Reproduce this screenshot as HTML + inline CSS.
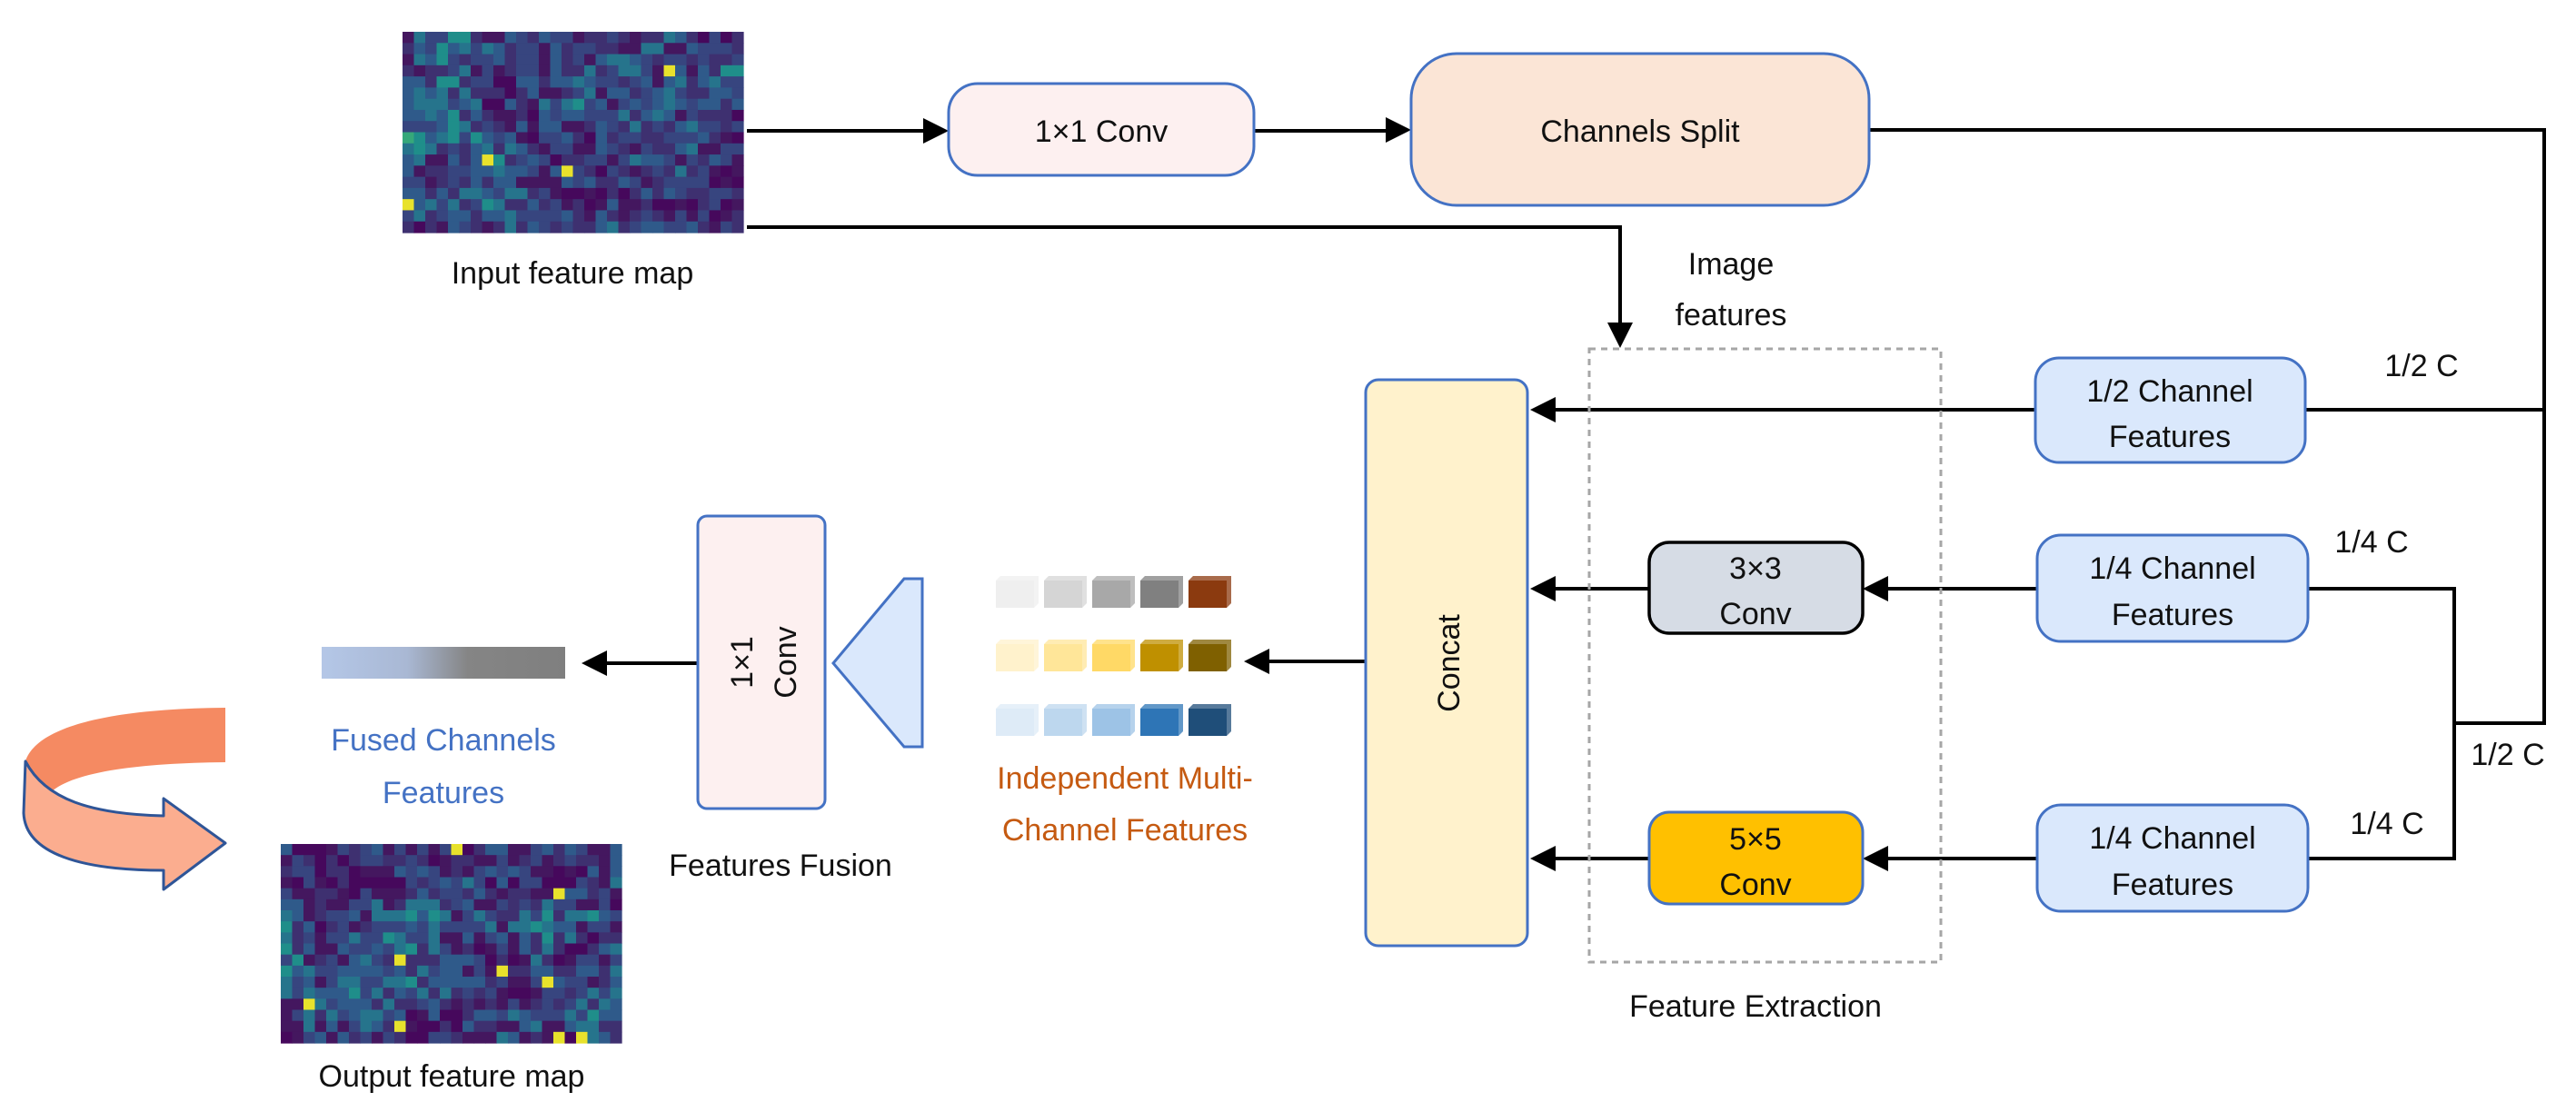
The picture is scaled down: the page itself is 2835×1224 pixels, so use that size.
<!DOCTYPE html>
<html><head><meta charset="utf-8"><style>
html,body{margin:0;padding:0;background:#fff;}
svg{display:block;}
text{font-family:"Liberation Sans",sans-serif;font-size:34px;fill:#111;}
</style></head><body>
<svg id="s" width="2835" height="1224" viewBox="0 0 2835 1224" xmlns="http://www.w3.org/2000/svg">
<defs>
<linearGradient id="gb" x1="0" x2="1" y1="0" y2="0"><stop offset="0" stop-color="#b4c7e7"/><stop offset="0.35" stop-color="#a9b8d4"/><stop offset="0.6" stop-color="#858585"/><stop offset="1" stop-color="#7f7f7f"/></linearGradient>
</defs>

<g id="fm1"><rect x="443" y="35" width="375" height="221" fill="#3d2d72"/></g>
<g id="fm2"><rect x="309" y="929" width="375" height="219" fill="#3f1f6e"/></g>

<text x="630" y="312" text-anchor="middle" font-size="37">Input feature map</text>
<text x="497" y="1196" text-anchor="middle" font-size="37">Output feature map</text>

<g stroke="#000" stroke-width="4" fill="none">
<line x1="822" y1="144" x2="1020" y2="144"/>
<polyline points="822,250 1783,250 1783,360"/>
<line x1="1380" y1="144" x2="1530" y2="144"/>
<polyline points="2057,143 2800,143 2800,796 2701,796"/>
<line x1="2800" y1="451" x2="2537" y2="451"/>
<line x1="2240" y1="451" x2="1706" y2="451"/>
<polyline points="2540,648 2701,648 2701,945 2540,945"/>
<line x1="2242" y1="648" x2="2074" y2="648"/>
<line x1="1815" y1="648" x2="1706" y2="648"/>
<line x1="2242" y1="945" x2="2074" y2="945"/>
<line x1="1815" y1="945" x2="1706" y2="945"/>
<line x1="1503" y1="728" x2="1392" y2="728"/>
<line x1="768" y1="730" x2="662" y2="730"/>
</g>
<g fill="#000">
<polygon points="1044,144 1016,130 1016,158"/>
<polygon points="1553,143 1525,129 1525,157"/>
<polygon points="1783,383 1769,355 1797,355"/>
<polygon points="1684,451 1712,437 1712,465"/>
<polygon points="1684,648 1712,634 1712,662"/>
<polygon points="2050,648 2078,634 2078,662"/>
<polygon points="1684,945 1712,931 1712,959"/>
<polygon points="2050,945 2078,931 2078,959"/>
<polygon points="1369,728 1397,714 1397,742"/>
<polygon points="640,730 668,716 668,744"/>
</g>

<rect x="1044" y="92" width="336" height="101" rx="32" fill="#fdf0f0" stroke="#4472c4" stroke-width="3"/>
<text x="1212" y="156" text-anchor="middle" font-size="36">1×1 Conv</text>
<rect x="1553" y="59" width="504" height="167" rx="50" fill="#fbe5d6" stroke="#4472c4" stroke-width="3"/>
<text x="1805" y="156" text-anchor="middle" font-size="36">Channels Split</text>

<text x="1905" y="302" text-anchor="middle" font-size="36">Image</text>
<text x="1905" y="358" text-anchor="middle" font-size="36">features</text>
<rect x="1749" y="384" width="387" height="675" fill="none" stroke="#a6a6a6" stroke-width="3" stroke-dasharray="7,6"/>
<text x="1932" y="1119" text-anchor="middle" font-size="36">Feature Extraction</text>

<rect x="1503" y="418" width="178" height="623" rx="14" fill="#fff2cc" stroke="#4472c4" stroke-width="3"/>
<text transform="translate(1606,730) rotate(-90)" text-anchor="middle" font-size="36">Concat</text>

<rect x="2240" y="394" width="297" height="115" rx="26" fill="#dae8fc" stroke="#4472c4" stroke-width="3"/>
<text x="2388" y="442" text-anchor="middle" font-size="36">1/2 Channel</text>
<text x="2388" y="492" text-anchor="middle" font-size="36">Features</text>
<rect x="2242" y="589" width="298" height="117" rx="26" fill="#dae8fc" stroke="#4472c4" stroke-width="3"/>
<text x="2391" y="637" text-anchor="middle" font-size="36">1/4 Channel</text>
<text x="2391" y="688" text-anchor="middle" font-size="36">Features</text>
<rect x="2242" y="886" width="298" height="117" rx="26" fill="#dae8fc" stroke="#4472c4" stroke-width="3"/>
<text x="2391" y="934" text-anchor="middle" font-size="36">1/4 Channel</text>
<text x="2391" y="985" text-anchor="middle" font-size="36">Features</text>

<rect x="1815" y="597" width="235" height="100" rx="22" fill="#d6dce5" stroke="#000" stroke-width="3.5"/>
<text x="1932" y="637" text-anchor="middle" font-size="36">3×3</text>
<text x="1932" y="687" text-anchor="middle" font-size="36">Conv</text>
<rect x="1815" y="894" width="235" height="101" rx="22" fill="#ffc000" stroke="#4472c4" stroke-width="3"/>
<text x="1932" y="935" text-anchor="middle" font-size="36">5×5</text>
<text x="1932" y="985" text-anchor="middle" font-size="36">Conv</text>

<text x="2665" y="414" text-anchor="middle" font-size="34">1/2 C</text>
<text x="2610" y="608" text-anchor="middle" font-size="34">1/4 C</text>
<text x="2760" y="842" text-anchor="middle" font-size="34">1/2 C</text>
<text x="2627" y="918" text-anchor="middle" font-size="34">1/4 C</text>

<g id="cubes"></g>
<text x="1238" y="868" text-anchor="middle" font-size="36" style="fill:#c55a11">Independent Multi-</text>
<text x="1238" y="925" text-anchor="middle" font-size="36" style="fill:#c55a11">Channel Features</text>

<polygon points="1015,637 995,637 917,730 995,822 1015,822" fill="#dae8fc" stroke="#4472c4" stroke-width="3"/>
<rect x="768" y="568" width="140" height="322" rx="10" fill="#fdf0f0" stroke="#4472c4" stroke-width="3"/>
<text transform="translate(838,729) rotate(-90)" text-anchor="middle" font-size="36"><tspan x="0" y="-10">1×1</tspan><tspan x="0" y="38">Conv</tspan></text>
<text x="859" y="964" text-anchor="middle" font-size="36">Features Fusion</text>

<rect x="354" y="712" width="268" height="35" fill="url(#gb)"/>
<text x="488" y="826" text-anchor="middle" font-size="37" style="fill:#4472c4">Fused Channels</text>
<text x="488" y="884" text-anchor="middle" font-size="37" style="fill:#4472c4">Features</text>

<!-- curved arrow -->
<path d="M28,838 C40,800 120,780 248,779 L248,839 C150,840 80,850 56,872 C40,862 30,850 28,838 Z" fill="#f58a62"/>
<path d="M28,838 L26,895 C28,940 90,958 180,958 L180,979 L248,928 L180,879 L180,898 C100,896 50,880 28,838 Z" fill="#fbad8f" stroke="#2f5597" stroke-width="3" stroke-linejoin="round"/>
</svg>
<script>
(function(){
var ns="http://www.w3.org/2000/svg";
var seed=12345;function r(){seed=(seed*1103515245+12345)%2147483648;return seed/2147483648;}
var pal=["#46085c","#44175f","#3e3070","#37457f","#2f5a8a","#26748c","#1f8e8a","#36a87a","#7cd050","#e8e22c"];
function fm(id,x0,y0,w,h,cols,rows){
 var g=document.getElementById(id),cw=w/cols,ch=h/rows;
 var cg=[],CX=8,CY=6;
 for(var a=0;a<=CX;a++){cg[a]=[];for(var b=0;b<=CY;b++)cg[a][b]=r();}
 for(var i=0;i<cols;i++)for(var j=0;j<rows;j++){
  var fx=i/cols*CX,fy=j/rows*CY,ix=Math.floor(fx),iy=Math.floor(fy),tx=fx-ix,ty=fy-iy;
  var c=cg[ix][iy]*(1-tx)*(1-ty)+cg[ix+1][iy]*tx*(1-ty)+cg[ix][iy+1]*(1-tx)*ty+cg[ix+1][iy+1]*tx*ty;
  var v=c*0.55+r()*0.55-0.15;
  var k=Math.max(0,Math.min(8,Math.floor(v*8)));
  if(r()>0.985)k=9;
  var e=document.createElementNS(ns,"rect");
  e.setAttribute("x",(x0+i*cw).toFixed(2));e.setAttribute("y",(y0+j*ch).toFixed(2));
  e.setAttribute("width",(cw+0.6).toFixed(2));e.setAttribute("height",(ch+0.6).toFixed(2));
  e.setAttribute("fill",pal[k]);g.appendChild(e);}
}
fm("fm1",443,35,375,221,30,18);
fm("fm2",309,929,375,219,30,18);
var rows=[["#efefef","#d5d5d5","#a8a8a8","#808080","#8b3a0f"],["#fff2cc","#ffe699","#ffd966","#bf9000","#7f6000"],["#deebf7","#bdd7ee","#9dc3e6","#2e75b6","#1f4e79"]];
var ys=[634,704,775],g=document.getElementById("cubes");
for(var a=0;a<3;a++)for(var b=0;b<5;b++){
 var x=1096+b*53,y=ys[a];
 var e=document.createElementNS(ns,"rect");e.setAttribute("x",x);e.setAttribute("y",y+5);e.setAttribute("width",42);e.setAttribute("height",30);e.setAttribute("fill",rows[a][b]);g.appendChild(e);
 var p=document.createElementNS(ns,"polygon");p.setAttribute("points",(x)+","+(y+5)+" "+(x+5)+","+y+" "+(x+47)+","+y+" "+(x+47)+","+(y+30)+" "+(x+42)+","+(y+35)+" "+(x+42)+","+(y+5));
 p.setAttribute("fill",rows[a][b]);p.setAttribute("opacity","0.75");g.appendChild(p);
}
})();
</script>
</body></html>
